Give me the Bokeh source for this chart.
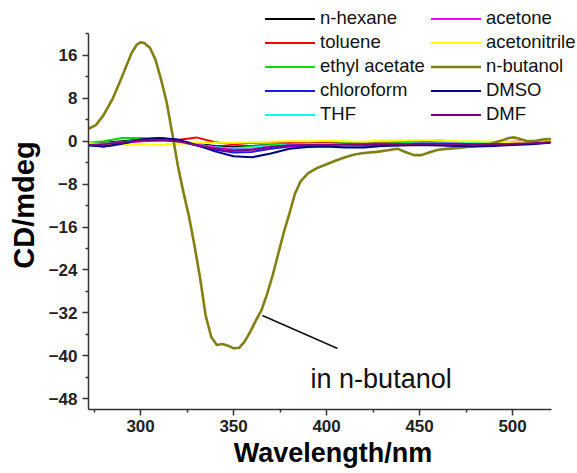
from bokeh.plotting import figure
from bokeh.models import Range1d, FixedTicker, Legend, LegendItem, Label, Title
from bokeh.embed import file_html
from bokeh.resources import INLINE

# ---------------- data ----------------
wl = [272, 280, 290, 300, 310, 320, 330, 340, 350, 360, 370, 380, 390,
      400, 410, 420, 430, 440, 450, 460, 470, 480, 490, 500, 510, 520]

n_hexane = [-0.4, -0.3, 0.0, 0.3, 0.4, 0.0, -0.5, -0.9, -1.0, -0.9, -0.7, -0.6, -0.5,
            -0.5, -0.5, -0.5, -0.4, -0.4, -0.4, -0.4, -0.4, -0.3, -0.3, -0.3, -0.2, -0.1]
toluene = [-0.3, -0.4, -0.2, 0.0, 0.1, 0.2, 0.7, -0.2, -0.6, -0.3, -0.2, -0.3, -0.3,
           -0.2, -0.2, -0.3, -0.3, -0.2, -0.2, 0.1, -0.1, -0.2, -0.3, -0.1, 0.0, 0.3]
ethyl_acetate = [-0.3, 0.0, 0.6, 0.6, 0.5, -0.1, -0.7, -1.2, -1.3, -1.0, -0.7, -0.6, -0.5,
                 -0.5, -0.4, -0.5, -0.5, -0.4, -0.3, -0.3, -0.4, -0.4, -0.3, -0.2, -0.2, 0.0]
chloroform = [-0.6, -1.0, -0.6, 0.2, 0.6, 0.2, -0.8, -1.6, -2.1, -2.0, -1.4, -1.0, -0.9,
              -0.8, -0.8, -0.8, -0.7, -0.7, -0.6, -0.6, -0.7, -0.8, -0.7, -0.5, -0.5, -0.2]
thf = [-0.5, -0.5, -0.2, 0.2, 0.4, 0.0, -0.6, -1.1, -1.4, -1.2, -0.9, -0.7, -0.6,
       -0.6, -0.5, -0.5, -0.5, -0.5, -0.4, -0.4, -0.3, -0.4, -0.4, -0.3, -0.4, -0.2]
acetone = [-0.6, -0.6, -0.3, 0.0, 0.2, 0.0, -0.6, -1.2, -1.6, -1.5, -1.0, -0.8, -0.7,
           -0.7, -0.7, -0.6, -0.6, -0.6, -0.5, -0.5, -0.5, -0.6, -0.5, -0.4, -0.4, -0.2]
acetonitrile = [-0.4, -0.6, -0.7, -0.6, -0.7, -0.5, -0.3, -0.3, -0.3, -0.2, -0.1, 0.0, 0.0,
                0.1, 0.0, -0.1, 0.1, 0.1, 0.2, 0.1, 0.0, 0.0, -0.1, -0.2, -0.1, 0.1]
dmso = [-0.8, -1.0, -0.5, 0.3, 0.6, 0.3, -0.7, -1.9, -2.8, -3.0, -2.3, -1.4, -1.1,
        -1.0, -1.2, -1.2, -0.9, -0.8, -0.7, -0.8, -0.9, -1.0, -0.9, -0.7, -0.6, -0.3]
dmf = [-0.7, -0.6, -0.2, 0.1, 0.2, 0.0, -0.7, -1.4, -1.8, -1.6, -1.1, -0.8, -0.7,
       -0.7, -0.6, -0.6, -0.6, -0.6, -0.5, -0.5, -0.5, -0.6, -0.6, -0.5, -0.4, -0.2]

wl_butanol = [272, 276, 280, 285, 290, 295, 298, 300, 302, 305, 308, 311, 314, 317,
              320, 323, 326, 329, 332, 335, 338, 341, 344, 347, 350, 353, 356, 359,
              362, 365, 368, 371, 374, 377, 380, 383, 386, 390, 395, 400, 405, 410,
              415, 420, 427, 433, 438, 443, 447, 451, 455, 460, 466, 472, 480, 486,
              490, 494, 498, 501, 504, 508, 512, 516, 520]
n_butanol = [2.3, 3.0, 4.8, 7.9, 12.0, 16.3, 18.0, 18.4, 18.3, 17.4, 15.2, 11.5, 7.3, 1.5,
             -4.5, -9.5, -14.0, -19.5, -25.5, -32.5, -36.5, -38.0, -37.8, -38.1, -38.6, -38.5, -37.3, -35.5,
             -33.4, -31.5, -28.5, -25.0, -21.0, -17.0, -13.5, -9.8, -7.5, -6.0, -5.0, -4.3, -3.6, -3.0,
             -2.5, -2.2, -2.0, -1.7, -1.4, -2.1, -2.6, -2.6, -2.1, -1.6, -1.4, -1.2, -0.9, -0.7,
             -0.3, 0.1, 0.6, 0.7, 0.4, 0.0, 0.0, 0.3, 0.4]

x_ticks = [300, 350, 400, 450, 500]
x_minor = [275, 325, 375, 425, 475]
y_ticks = [-48, -40, -32, -24, -16, -8, 0, 8, 16]
y_minor = [-44, -36, -28, -20, -12, -4, 4, 12, 20]
x_axis_span = (272, 521)
y_axis_span = (-50, 20)

FONT = "Liberation Sans"

# layout: the frame is extended to the top/right edges so the legend
# (which overhangs the axes box in the original) is not clipped;
# the visible axes are limited with `bounds`.
W, H = 577, 473
LEFT, BOTTOM = 88, 64
PX_PER_NM = 1.86
PX_PER_UNIT = 5.367
x_end = x_axis_span[0] + (W - LEFT) / PX_PER_NM
y_end = y_axis_span[0] + (H - BOTTOM) / PX_PER_UNIT

p = figure(width=W, height=H, output_backend="svg", toolbar_location=None,
           x_range=Range1d(x_axis_span[0], x_end),
           y_range=Range1d(y_axis_span[0], y_end),
           min_border_left=LEFT, min_border_right=0, min_border_top=0,
           min_border_bottom=BOTTOM)
p.outline_line_color = None
p.grid.visible = False
p.background_fill_color = "white"
p.border_fill_color = "white"

series = [
    ("n-hexane", wl, n_hexane, "#000000", 2.0),
    ("toluene", wl, toluene, "#ff0000", 2.0),
    ("ethyl acetate", wl, ethyl_acetate, "#00dd00", 2.0),
    ("chloroform", wl, chloroform, "#1a1aee", 2.0),
    ("THF", wl, thf, "#00ffff", 2.0),
    ("acetone", wl, acetone, "#ff00ff", 2.0),
    ("acetonitrile", wl, acetonitrile, "#ffff00", 2.0),
    ("n-butanol", wl_butanol, n_butanol, "#808014", 2.6),
    ("DMSO", wl, dmso, "#000080", 2.0),
    ("DMF", wl, dmf, "#800080", 2.0),
]

items = []
for name, xs, ys, col, w in series:
    r = p.line(xs, ys, line_color=col, line_width=w, line_join="round", line_cap="round")
    items.append(LegendItem(label=name, renderers=[r]))

for i, it in enumerate([items[:5], items[5:]]):
    lg = Legend(items=it, location=(177 if i == 0 else 343, 284),
                background_fill_alpha=0, border_line_alpha=0,
                padding=0, margin=0, spacing=2,
                label_text_font=FONT, label_text_font_size="18.5px",
                label_text_color="#111111",
                glyph_width=50, glyph_height=21, label_height=21,
                label_standoff=5)
    p.add_layout(lg, "center")

# annotation
p.segment(x0=[365.5], y0=[-32.5], x1=[405.9], y1=[-38.65],
          line_color="#111111", line_width=1.6)
p.add_layout(Label(x=391.4, y=-44.3, text="in n-butanol", text_font=FONT,
                   text_font_size="27px", text_color="#111111",
                   text_baseline="alphabetic", text_align="left"))

# axes
p.xaxis.bounds = x_axis_span
p.yaxis.bounds = y_axis_span
for ax in (p.xaxis[0], p.yaxis[0]):
    ax.axis_line_color = "#333333"
    ax.axis_line_width = 1.5
    ax.major_tick_line_color = "#333333"
    ax.minor_tick_line_color = "#333333"
    ax.major_tick_line_width = 1.5
    ax.minor_tick_line_width = 1.5
    ax.major_tick_out = 6
    ax.major_tick_in = 0
    ax.minor_tick_out = 3
    ax.minor_tick_in = 0
    ax.major_label_text_font = FONT
    ax.major_label_text_font_style = "bold"
    ax.major_label_text_font_size = "17px"
    ax.major_label_text_color = "#222222"

p.xaxis.ticker = FixedTicker(ticks=x_ticks, minor_ticks=x_minor)
p.yaxis.ticker = FixedTicker(ticks=y_ticks, minor_ticks=y_minor)
p.xaxis.major_label_standoff = 4
p.yaxis.major_label_standoff = 5

# axis titles (as side titles so they can be centred on the visible axes)
p.add_layout(Title(text="CD/mdeg", align="center", offset=-14, standoff=11,
                   text_font=FONT, text_font_style="bold", text_font_size="29px",
                   text_color="#000000"), "left")
p.add_layout(Title(text="Wavelength/nm", align="center", offset=-13, standoff=3,
                   text_font=FONT, text_font_style="bold", text_font_size="27px",
                   text_color="#000000"), "below")

open("out.html", "w").write(file_html(p, INLINE))
